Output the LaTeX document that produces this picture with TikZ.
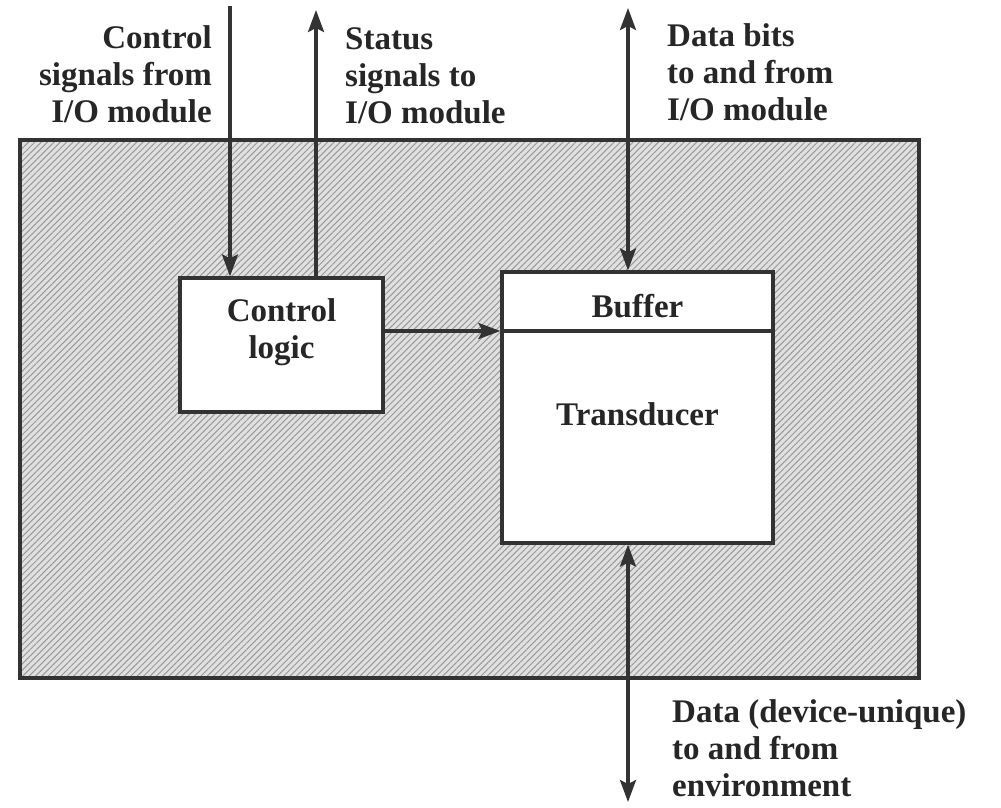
\documentclass[tikz,border=0pt]{standalone}
\usepackage{fontspec}
\setmainfont{Liberation Serif}
\usepackage{tikz}
\usetikzlibrary{arrows.meta, patterns.meta}
\tikzset{txt/.style={font=\fontsize{33}{37}\selectfont\bfseries, text=black!85, inner sep=0pt}}
\tikzset{box/.style={draw=black!80, line width=3.2pt, fill=white, rectangle, inner sep=0pt}}
\tikzset{sig/.style={draw=black!80, line width=3.2pt, -{Stealth[length=22pt, width=16pt, inset=4pt]}}}
\tikzset{bidir/.style={draw=black!80, line width=3.2pt, {Stealth[length=22pt, width=16pt, inset=4pt]}-{Stealth[length=22pt, width=16pt, inset=4pt]}}}
\tikzset{hatched/.style={preaction={fill=black!12}, pattern={Lines[angle=45, distance=4.5pt, line width=1pt]}, pattern color=black!40}}

\begin{document}
\begin{tikzpicture}[x=1pt, y=-1pt]
            \useasboundingbox (0,0) rectangle (1001,807);
            % device housing
            \draw[hatched, draw=black!80, line width=3.2pt] (20,140) rectangle (919,678);
            \node[box, minimum width=203pt, minimum height=134pt] (ctrl) at (281.5,345) {};
            \node[box, minimum width=271pt, minimum height=271pt] (dev) at (637.5,407.5) {};
            \coordinate (div) at (502,331);
            \draw[black!80, line width=3.2pt] (dev.west |- div) -- (dev.east |- div);
            \node[txt, align=center] (ctrltxt) at ([yshift=13pt]ctrl.center) {Control\\logic};
            \node[txt] (buf) at (637.5,306) {Buffer};
            \node[txt] (trans) at (637.5,414) {Transducer};
            % free ends of the signal lines
            \coordinate (cin) at (230,6);
            \coordinate (sout) at (316,10);
            \coordinate (dio) at (628,8);
            \coordinate (env) at (628,802);
            \draw[sig] (cin) -- (cin |- ctrl.north);
            \draw[sig] (sout |- ctrl.north) -- (sout);
            \draw[bidir] (dio) -- (dio |- dev.north);
            \draw[bidir] (dio |- dev.south) -- (env);
            \draw[sig] (ctrl.east |- div) -- (dev.west |- div);
            % labels
            \node[txt, align=right, anchor=north east] (cinlbl) at (212,25) {Control\\signals from\\I/O module};
            \node[txt, align=left, anchor=north west] (soutlbl) at (345,27) {Status\\signals to\\I/O module};
            \node[txt, align=left, anchor=north west] (diolbl) at (667,23) {Data bits\\to and from\\I/O module};
            \node[txt, align=left, anchor=north west] (envlbl) at (672,699) {Data (device-unique)\\to and from\\environment};
        \end{tikzpicture}
\end{document}
